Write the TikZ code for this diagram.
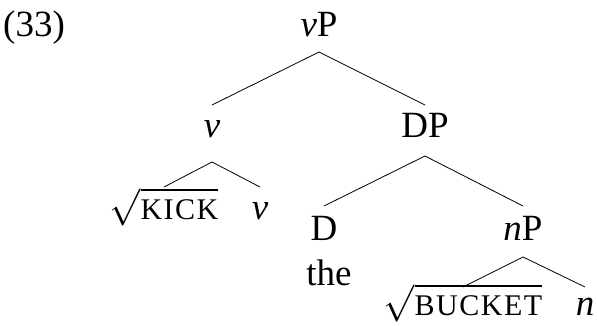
\documentclass[tikz,border=0pt]{standalone}
\usepackage{fix-cm}
\usepackage{amsmath}
\usepackage{fontspec}
\setmainfont{Liberation Serif}
\newcommand{\rootsc}[1]{{\fontsize{30}{32}\selectfont\addfontfeature{LetterSpace=5}#1}}
\begin{document}
\begin{tikzpicture}[x=1pt,y=1pt,
  lbl/.style={inner sep=0pt, anchor=base, font=\fontsize{37}{42}\selectfont},
  br/.style={line width=0.8pt}]
\useasboundingbox (0,0) rectangle (597,-326);
\node[lbl, anchor=base west] (ex) at (3,-37) {(33)};
\node[lbl] (vP) at (319,-37) {\textit{v}P};
\node[lbl] (v1) at (212,-138) {\textit{v}};
\node[lbl] (DP) at (425,-138) {DP};
\node[lbl] (kick) at (164,-219) {$\sqrt{\mbox{\rootsc{KICK}}}$};
\node[lbl] (v2) at (260,-219) {\textit{v}};
\node[lbl] (D) at (324,-240) {D};
\node[lbl] (nP) at (523,-240) {\textit{n}P};
\node[lbl] (the) at (329,-285) {the};
\node[lbl] (bucket) at (463,-315) {$\sqrt{\mbox{\rootsc{BUCKET}}}$};
\node[lbl] (n) at (585,-315) {\textit{n}};
\draw[br] ([yshift=-15pt]vP.base) -- ([yshift=33pt]v1.base);
\draw[br] ([yshift=-15pt]vP.base) -- ([yshift=33pt]DP.base);
\draw[br] ([yshift=-24pt]v1.base) -- ([yshift=32pt]kick.base);
\draw[br] ([yshift=-24pt]v1.base) -- ([yshift=32pt]v2.base);
\draw[br] ([yshift=-18pt]DP.base) -- ([yshift=34pt]D.base);
\draw[br] ([yshift=-18pt]DP.base) -- ([yshift=34pt]nP.base);
\draw[br] ([yshift=-17pt]nP.base) -- ([yshift=28pt]bucket.base);
\draw[br] ([yshift=-17pt]nP.base) -- ([yshift=28pt]n.base);
\end{tikzpicture}
\end{document}
